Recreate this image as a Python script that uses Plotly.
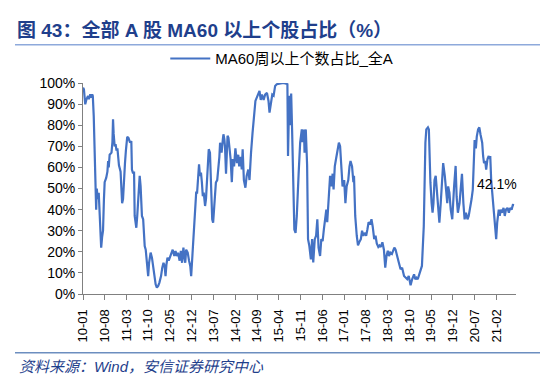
import plotly.graph_objects as go

dates = [
"2010-01-01","2010-01-10","2010-01-23","2010-02-04","2010-02-19","2010-02-27","2010-03-13","2010-03-22","2010-04-01","2010-04-07",
"2010-04-16","2010-05-01","2010-05-10","2010-05-16","2010-05-25","2010-06-04","2010-06-13","2010-06-22","2010-06-28","2010-07-07",
"2010-07-16","2010-07-25","2010-08-01","2010-08-16","2010-08-28","2010-09-04","2010-09-10","2010-09-19","2010-10-07","2010-10-16",
"2010-10-22","2010-10-28","2010-11-07","2010-11-16","2010-11-25","2010-12-04","2010-12-10","2010-12-19","2011-01-04","2011-01-13",
"2011-01-19","2011-01-28","2011-02-04","2011-02-16","2011-02-25","2011-03-04","2011-03-10","2011-03-22","2011-04-07","2011-04-19",
"2011-04-25","2011-05-04","2011-05-16","2011-05-22","2011-06-01","2011-06-07","2011-06-16","2011-07-01","2011-07-10","2011-07-19",
"2011-07-25","2011-08-01","2011-08-13","2011-08-22","2011-08-28","2011-09-07","2011-09-13","2011-09-25","2011-10-01","2011-10-10",
"2011-10-19","2011-10-25","2011-11-07","2011-11-16","2011-11-28","2011-12-13","2011-12-25","2012-01-07","2012-01-19","2012-02-04",
"2012-02-16","2012-02-28","2012-03-10","2012-03-19","2012-03-28","2012-04-07","2012-04-19","2012-05-04","2012-05-16","2012-05-28",
"2012-06-13","2012-06-25","2012-07-07","2012-07-19","2012-08-04","2012-08-16","2012-08-28","2012-09-10","2012-09-19","2012-09-28",
"2012-10-07","2012-10-22","2012-11-04","2012-11-16","2012-11-25","2012-12-07","2012-12-16","2012-12-25","2013-01-01","2013-01-13",
"2013-01-22","2013-02-01","2013-02-10","2013-02-19","2013-03-01","2013-03-10","2013-03-19","2013-03-28","2013-04-10","2013-04-19",
"2013-04-28","2013-05-07","2013-05-16","2013-05-28","2013-06-07","2013-06-19","2013-06-28","2013-07-07","2013-07-16","2013-07-25",
"2013-08-07","2013-08-16","2013-08-28","2013-09-04","2013-09-10","2013-09-19","2013-10-01","2013-10-07","2013-10-16","2013-10-22",
"2013-11-01","2013-11-10","2013-11-16","2013-11-25","2013-12-04","2013-12-16","2013-12-28","2014-01-07","2014-01-19","2014-02-01",
"2014-02-16","2014-03-01","2014-03-10","2014-03-25","2014-04-04","2014-04-13","2014-04-25","2014-05-10","2014-05-22","2014-06-07",
"2014-06-19","2014-06-25","2014-07-04","2014-07-19","2014-08-04","2014-08-16","2014-09-04","2014-09-25","2014-10-07","2014-10-19",
"2014-11-04","2014-11-19","2014-12-07","2014-12-22","2015-01-01","2015-01-16","2015-01-28","2015-02-10","2015-02-25","2015-03-13",
"2015-04-16","2015-05-16","2015-06-13","2015-06-25","2015-07-01","2015-07-13","2015-07-22","2015-08-01","2015-08-10","2015-08-19",
"2015-09-01","2015-09-13","2015-09-25","2015-10-13","2015-10-28","2015-11-13","2015-11-19","2015-12-04","2015-12-10","2015-12-22",
"2016-01-04","2016-01-13","2016-01-25","2016-02-10","2016-02-22","2016-03-04","2016-03-19","2016-04-01","2016-04-13","2016-04-25",
"2016-05-10","2016-05-22","2016-06-04","2016-06-16","2016-07-01","2016-07-10","2016-07-19","2016-08-01","2016-08-16","2016-08-28",
"2016-09-10","2016-09-19","2016-10-01","2016-10-13","2016-10-25","2016-11-10","2016-11-22","2016-12-04","2016-12-16","2017-01-01",
"2017-01-13","2017-01-25","2017-02-10","2017-02-22","2017-03-04","2017-03-19","2017-04-01","2017-04-07","2017-04-19","2017-05-04",
"2017-05-16","2017-05-28","2017-06-13","2017-06-25","2017-07-07","2017-07-19","2017-08-04","2017-08-16","2017-08-28","2017-09-13",
"2017-09-25","2017-10-07","2017-10-22","2017-11-04","2017-11-16","2017-12-01","2017-12-13","2017-12-25","2018-01-10","2018-01-25",
"2018-02-07","2018-02-19","2018-03-04","2018-03-16","2018-03-28","2018-04-13","2018-04-25","2018-05-07","2018-05-19","2018-06-04",
"2018-06-19","2018-07-07","2018-07-22","2018-08-10","2018-08-25","2018-09-10","2018-09-25","2018-10-13","2018-10-28","2018-11-16",
"2018-11-28","2018-12-10","2018-12-22","2019-01-07","2019-01-19","2019-02-01","2019-02-19","2019-02-28","2019-03-07","2019-03-16",
"2019-04-01","2019-04-10","2019-04-16","2019-04-25","2019-05-07","2019-05-16","2019-05-25","2019-06-04","2019-06-16","2019-06-25",
"2019-07-04","2019-07-13","2019-07-22","2019-08-04","2019-08-16","2019-08-28","2019-09-13","2019-09-25","2019-10-07","2019-10-16",
"2019-10-28","2019-11-10","2019-11-25","2019-12-13","2019-12-28","2020-01-07","2020-01-19","2020-02-04","2020-02-16","2020-02-28",
"2020-03-13","2020-03-25","2020-04-07","2020-04-22","2020-05-04","2020-05-16","2020-06-01","2020-06-13","2020-06-25","2020-07-01",
"2020-07-13","2020-07-22","2020-08-04","2020-08-16","2020-08-28","2020-09-13","2020-09-22","2020-10-01","2020-10-13","2020-10-22",
"2020-11-04","2020-11-16","2020-11-25","2020-12-01","2020-12-10","2020-12-22","2021-01-04","2021-01-16","2021-01-28","2021-02-07",
"2021-02-22","2021-03-04","2021-03-13","2021-03-25","2021-04-10","2021-04-22","2021-05-04","2021-05-19","2021-06-01","2021-06-13",
"2021-06-28","2021-07-10","2021-07-22",
]

ratio_pct = [
97.8,97.0,89.9,92.3,93.8,92.3,94.6,93.0,94.6,93.8,
84.4,56.0,40.0,50.0,45.0,48.0,38.5,30.0,22.0,27.0,
30.0,45.0,53.0,55.0,58.0,63.0,60.0,66.0,67.0,72.0,
82.8,76.0,70.0,71.0,68.0,69.0,64.0,61.0,58.0,50.0,
43.0,45.0,55.0,62.0,68.0,71.0,74.5,74.0,71.7,72.5,
59.0,57.5,57.5,37.0,33.8,31.4,37.0,51.0,56.0,51.0,
41.7,37.0,35.4,29.0,22.7,21.0,18.0,13.3,8.5,14.8,
18.0,19.6,17.2,14.0,8.5,4.6,3.0,3.8,5.4,8.5,
12.5,14.8,13.3,8.5,14.0,17.2,15.8,18.0,18.8,21.0,
18.0,20.4,18.0,19.6,15.8,20.4,14.8,22.0,18.0,14.8,
21.0,19.6,15.8,13.3,8.5,18.0,24.3,29.0,34.0,48.0,
48.0,57.5,61.5,56.0,57.5,52.8,46.4,48.0,41.7,45.0,
52.8,62.2,68.6,67.0,52.8,35.4,33.8,41.7,46.4,52.8,
54.0,57.5,65.0,71.7,70.0,67.0,73.3,75.7,73.3,70.0,
57.0,67.0,75.0,74.0,70.0,64.0,53.0,64.0,60.5,69.0,
62.0,66.0,60.5,65.0,59.0,68.6,54.0,50.4,56.0,59.0,
54.0,60.5,67.0,76.5,87.5,91.5,93.8,96.2,92.0,94.5,
92.0,94.5,95.3,91.5,86.0,91.5,94.5,94.0,98.6,99.4,
99.9,100.0,99.7,99.4,65.4,94.0,80.0,95.0,78.0,53.0,
30.6,29.0,37.0,57.0,71.7,78.0,72.0,78.0,67.0,78.0,
61.0,26.0,23.0,16.4,26.0,15.0,26.0,27.6,35.4,22.0,
18.0,26.0,25.0,30.6,35.4,40.0,34.0,43.0,56.0,51.0,
57.0,49.5,60.5,64.0,67.0,71.7,70.0,62.0,51.0,54.0,
43.0,51.0,54.0,60.5,63.0,60.5,53.0,56.0,37.0,27.6,
23.0,24.5,26.0,30.0,27.6,29.0,27.6,30.6,34.0,33.0,
35.4,32.0,26.0,27.6,24.0,22.3,23.0,22.3,24.5,21.0,
12.5,18.0,20.5,18.0,19.6,19.0,20.5,22.0,21.0,17.0,
15.0,11.7,12.5,8.5,7.7,7.0,8.5,4.1,7.0,9.3,
7.0,7.7,7.0,9.3,11.0,13.3,32.0,56.0,71.7,78.0,
79.0,78.0,67.0,53.0,43.0,38.5,43.0,54.0,56.0,49.5,
45.0,40.0,33.8,43.0,53.0,62.0,56.0,49.5,43.0,51.0,
48.0,40.0,35.4,51.0,60.7,46.0,38.5,43.0,51.0,57.0,
43.0,35.4,38.5,35.4,37.0,40.0,45.0,49.5,62.0,73.0,
69.0,74.6,78.0,79.0,75.5,71.7,65.4,62.0,63.0,59.0,
64.0,65.4,64.0,65.4,54.0,48.0,40.0,35.4,26.0,34.0,
40.0,37.0,40.0,38.5,40.8,37.0,40.0,40.8,38.5,40.8,
40.0,42.2,42.1,
]

tick_dates = ["2010-01-01","2010-08-01","2011-03-01","2011-10-01","2012-05-01","2012-12-01","2013-07-01",
              "2014-02-01","2014-09-01","2015-04-01","2015-11-01","2016-06-01","2017-01-01","2017-08-01",
              "2018-03-01","2018-10-01","2019-05-01","2019-12-01","2020-07-01","2021-02-01"]
tick_labels = ["10-01","10-08","11-03","11-10","12-05","12-12","13-07","14-02","14-09","15-04",
               "15-11","16-06","17-01","17-08","18-03","18-10","19-05","19-12","20-07","21-02"]

series_name = "MA60周以上个数占比_全A"
title_text = "图 43：全部 A 股 MA60 以上个股占比（%）"
source_text = "资料来源：Wind，安信证券研究中心"

FONT = "Liberation Sans, Arial, Noto Sans CJK SC, sans-serif"
LINE_BLUE = "#4472C4"
TITLE_BLUE = "#1F3F8C"

fig = go.Figure()
fig.add_trace(go.Scatter(
    x=dates, y=ratio_pct, mode="lines", name=series_name,
    line=dict(color=LINE_BLUE, width=2.2),
))

fig.add_annotation(
    x=dates[-1], y=ratio_pct[-1], text=f"{ratio_pct[-1]:.1f}%",
    showarrow=False, xanchor="center", yanchor="middle",
    xshift=-17, yshift=21, font=dict(family=FONT, size=14, color="#000000"),
)

fig.update_layout(
    width=550, height=389,
    margin=dict(l=83, r=34, t=83, b=95),
    paper_bgcolor="white", plot_bgcolor="white",
    font=dict(family=FONT, size=13, color="#000000"),
    showlegend=True,
    legend=dict(orientation="h", x=0.19, y=1.115, xanchor="left", yanchor="middle",
                font=dict(family=FONT, size=15, color="#000000"),
                bgcolor="rgba(0,0,0,0)", itemwidth=40),
    title=dict(text=f"<b>{title_text}</b>", x=17/550, xanchor="left", y=1-30/389, yanchor="middle",
               xref="container", yref="container",
               font=dict(family="Liberation Sans, Noto Sans CJK SC, sans-serif", size=19, color=TITLE_BLUE)),
    xaxis=dict(
        type="date", range=["2010-01-01", "2021-08-10"],
        tickmode="array", tickvals=tick_dates, ticktext=tick_labels, tickangle=-90,
        showgrid=False, zeroline=False,
        showline=True, linecolor="#808080", linewidth=1,
        ticks="outside", ticklen=5, tickcolor="#808080", ticklabelstandoff=4,
        tickfont=dict(family=FONT, size=13, color="#000000"),
    ),
    yaxis=dict(
        range=[0, 100], dtick=10, ticksuffix="%",
        showgrid=False, zeroline=False,
        showline=True, linecolor="#808080", linewidth=1,
        ticks="outside", ticklen=4, tickcolor="#808080",
        tickfont=dict(family=FONT, size=14, color="#000000"),
    ),
)

# decorative rules above and below the chart
fig.add_shape(type="line", xref="paper", yref="paper",
              x0=(15-83)/433, x1=(540-83)/433, y0=(294-44.7)/211, y1=(294-44.7)/211,
              line=dict(color="#8EA9DB", width=1.5))
fig.add_shape(type="line", xref="paper", yref="paper",
              x0=(15-83)/433, x1=(540-83)/433, y0=(294-352.7)/211, y1=(294-352.7)/211,
              line=dict(color="#6C8EBF", width=1.5))

fig.add_annotation(
    xref="paper", yref="paper", x=(17-83)/433, y=(294-366)/211,
    xanchor="left", yanchor="middle", showarrow=False,
    text=f"<i>{source_text}</i>",
    font=dict(family="Liberation Sans, Noto Sans CJK SC, sans-serif", size=15, color=TITLE_BLUE),
)

fig.write_html("out.html", config={"displayModeBar": False},
               post_script="document.body.style.margin='0';")
